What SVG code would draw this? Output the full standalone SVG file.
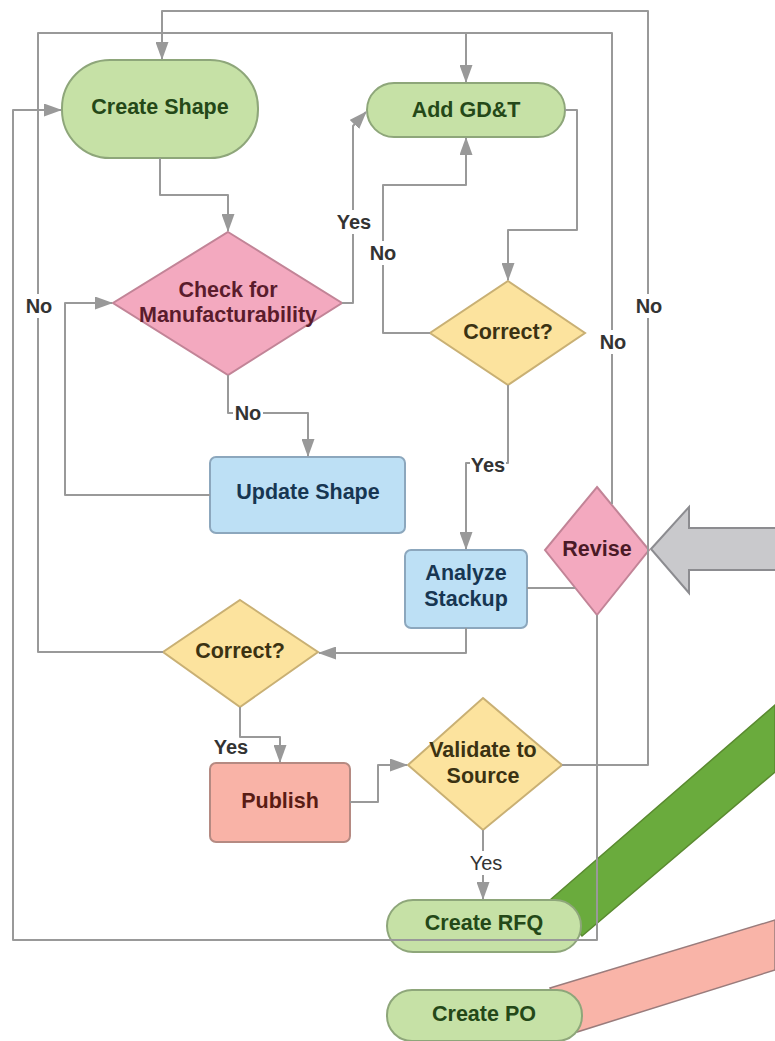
<svg xmlns="http://www.w3.org/2000/svg" width="775" height="1041" viewBox="0 0 775 1041">
<style>
.t{font-family:"Liberation Sans",Arial,sans-serif;font-weight:bold;font-size:21.5px;text-anchor:middle;dominant-baseline:central}
.lb{font-family:"Liberation Sans",Arial,sans-serif;font-weight:bold;font-size:20px;text-anchor:middle;dominant-baseline:central;fill:#333}
.c{fill:none;stroke:#999;stroke-width:2;stroke-linejoin:round}
.green{fill:#c6e1a6;stroke:#8ea67a;stroke-width:2}
.pink{fill:#f3a9bf;stroke:#c28497;stroke-width:2}
.yellow{fill:#fce39e;stroke:#c9b074;stroke-width:2}
.blue{fill:#bde0f5;stroke:#8ca7bd;stroke-width:2}
.salmon{fill:#f9b3a7;stroke:#b58a82;stroke-width:2}
</style>
<defs>
<marker id="ah" viewBox="0 0 18 13" refX="17" refY="6.5" markerWidth="18" markerHeight="13" markerUnits="userSpaceOnUse" orient="auto">
<path d="M0,0 L18,6.5 L0,13 Z" fill="#999"/>
</marker>
</defs>
<rect width="775" height="1041" fill="#fff"/>
<g id="bands">
<polygon points="550,900 775,705 775,772 582,936" fill="#6aab3d" stroke="#5a8a30" stroke-width="1.5"/>
<polygon points="550,988 775,920 775,970 577,1032" fill="#f9b4a8" stroke="#9a7c7c" stroke-width="1.5"/>
<polygon points="651,549 689,507 689,528 776,528 776,570 689,570 689,593" fill="#c9c9cc" stroke="#8c8c90" stroke-width="2"/>
</g>
<g id="create-shape"><rect class="green" x="62" y="60" width="196" height="98" rx="48"/><text class="t" x="160" y="107" fill="#244818">Create Shape</text></g>
<g id="add-gdt"><rect class="green" x="367" y="83" width="198" height="54" rx="27"/><text class="t" x="466" y="110" fill="#244818">Add GD&amp;T</text></g>
<g id="check"><polygon class="pink" points="228,232 342,303 228,375 113,303"/><text class="t" x="228" y="290" fill="#5a1c2c">Check for</text><text class="t" x="228" y="315" fill="#5a1c2c">Manufacturability</text></g>
<g id="correct1"><polygon class="yellow" points="508,281 585,333 508,385 430,333"/><text class="t" x="508" y="332" fill="#3b3212">Correct?</text></g>
<g id="update-shape"><rect class="blue" x="210" y="457" width="195" height="76" rx="6"/><text class="t" x="308" y="492" fill="#173652">Update Shape</text></g>
<g id="analyze"><rect class="blue" x="405" y="550" width="122" height="78" rx="6"/><text class="t" x="466" y="573" fill="#173652">Analyze</text><text class="t" x="466" y="599" fill="#173652">Stackup</text></g>
<g id="revise"><polygon class="pink" points="597,487 649,550 597,615 545,550"/><text class="t" x="597" y="549" fill="#4a1a26">Revise</text></g>
<g id="correct2"><polygon class="yellow" points="240,600 318,652 240,707 163,652"/><text class="t" x="240" y="651" fill="#3b3212">Correct?</text></g>
<g id="publish"><rect class="salmon" x="210" y="763" width="140" height="79" rx="6"/><text class="t" x="280" y="801" fill="#5a1c14">Publish</text></g>
<g id="validate"><polygon class="yellow" points="483,698 562,765 483,830 408,765"/><text class="t" x="483" y="750" fill="#3b3212">Validate to</text><text class="t" x="483" y="776" fill="#3b3212">Source</text></g>
<g id="create-rfq"><rect class="green" x="387" y="900" width="194" height="52" rx="26"/><text class="t" x="484" y="923" fill="#244818">Create RFQ</text></g>
<g id="create-po"><rect class="green" x="387" y="990" width="195" height="51" rx="25"/><text class="t" x="484" y="1014" fill="#244818">Create PO</text></g>
<g id="connectors">
<path class="c" marker-end="url(#ah)" d="M160,158 V195 H228 V231"/>
<path class="c" marker-end="url(#ah)" d="M228,375 V413 H308 V456"/>
<path class="c" marker-end="url(#ah)" d="M210,495 H65 V303 H112"/>
<path class="c" marker-end="url(#ah)" d="M342,303 H353 V126 L366,112"/>
<path class="c" marker-end="url(#ah)" d="M565,110 H577 V230 H508 V280"/>
<path class="c" marker-end="url(#ah)" d="M430,333 H383 V185 H466 V138"/>
<path class="c" marker-end="url(#ah)" d="M508,385 V463 H466 V549"/>
<path class="c" marker-end="url(#ah)" d="M466,628 V653 H319"/>
<path class="c" marker-end="url(#ah)" d="M163,652 H38 V33 H466 V82"/>
<path class="c" d="M612,504 V33 H466"/>
<path class="c" marker-end="url(#ah)" d="M562,765 H648 V11 H162 V59"/>
<path class="c" marker-end="url(#ah)" d="M597,615 V940 H13 V110 H61"/>
<path class="c" marker-end="url(#ah)" d="M240,707 V737 H280 V762"/>
<path class="c" marker-end="url(#ah)" d="M350,802 H378 V765 H407"/>
<path class="c" marker-end="url(#ah)" d="M483,830 V899"/>
<path class="c" d="M527,588 H575"/>
</g>
<g id="labels">
<rect x="336" y="210" width="36" height="24" fill="#fff"/><text class="lb" x="354" y="222">Yes</text>
<rect x="368" y="241" width="30" height="24" fill="#fff"/><text class="lb" x="383" y="253">No</text>
<rect x="24" y="294" width="30" height="24" fill="#fff"/><text class="lb" x="39" y="306">No</text>
<rect x="233" y="401" width="30" height="24" fill="#fff"/><text class="lb" x="248" y="413">No</text>
<rect x="634" y="294" width="30" height="24" fill="#fff"/><text class="lb" x="649" y="306">No</text>
<rect x="598" y="330" width="30" height="24" fill="#fff"/><text class="lb" x="613" y="342">No</text>
<rect x="470" y="453" width="36" height="24" fill="#fff"/><text class="lb" x="488" y="465">Yes</text>
<text class="lb" x="231" y="747">Yes</text>
<rect x="468" y="851" width="36" height="24" fill="#fff"/><text class="lb" x="486" y="863" style="font-weight:normal">Yes</text>
</g>
</svg>
